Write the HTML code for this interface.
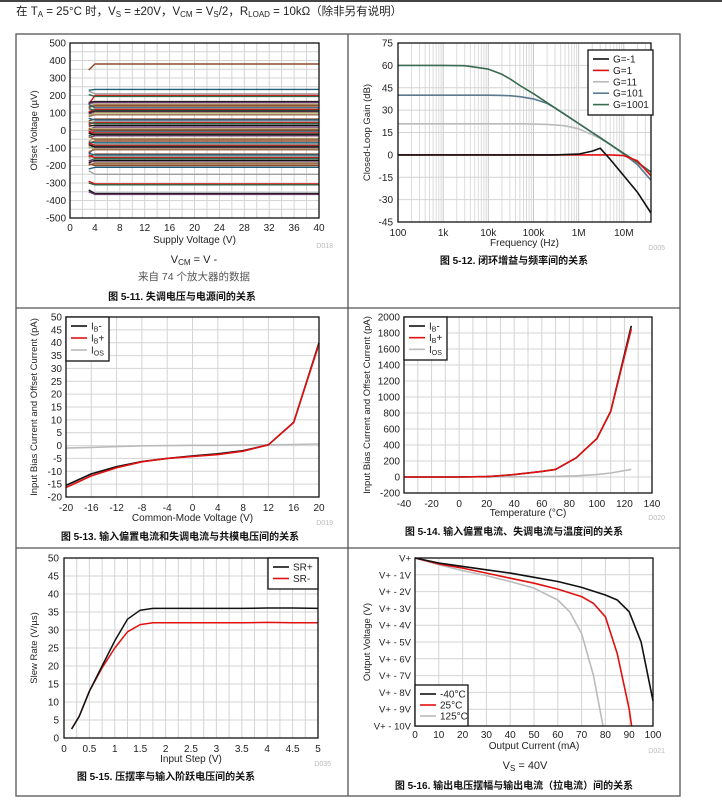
<!DOCTYPE html>
<html><head><meta charset="utf-8"><style>
html,body{margin:0;padding:0;background:#fff;}
svg{display:block;font-family:"Liberation Sans","Noto Sans CJK SC",sans-serif;}
</style></head><body>
<svg id="page" width="722" height="808" viewBox="0 0 722 808" xmlns="http://www.w3.org/2000/svg">
<rect x="0" y="0" width="722" height="2" fill="#444"/>
<text x="16" y="15" font-size="11.5" fill="#222">在 T<tspan font-size="8" dy="2">A</tspan><tspan dy="-2"> = 25°C 时，V</tspan><tspan font-size="8" dy="2">S</tspan><tspan dy="-2"> = ±20V，V</tspan><tspan font-size="8" dy="2">CM</tspan><tspan dy="-2"> = V</tspan><tspan font-size="8" dy="2">S</tspan><tspan dy="-2">/2，R</tspan><tspan font-size="8" dy="2">LOAD</tspan><tspan dy="-2"> = 10kΩ（除非另有说明）</tspan></text>
<g fill="none" stroke="#555" stroke-width="1.3">
<rect x="16" y="34" width="664" height="762"/>
<line x1="348" y1="34" x2="348" y2="796"/>
<line x1="16" y1="308" x2="680" y2="308"/>
<line x1="16" y1="548" x2="680" y2="548"/>
</g>
<g id="charts"></g>
</svg>
<script>
// ---------- Chart 1 data: offset voltage vs supply ----------
const c1Offsets = [380,235,210,200,195,165,160,150,145,140,130,125,120,115,110,105,100,90,65,60,50,45,40,30,20,10,5,0,-5,-10,-15,-20,-25,-30,-45,-50,-60,-70,-80,-85,-90,-95,-100,-105,-110,-135,-140,-150,-155,-160,-170,-180,-185,-190,-200,-210,-250,-305,-310,-360,-365];
const c1Starts  = [345,230,225,150,205,160,155,140,130,135,150,110,105,125,100,95,85,80,55,70,40,35,45,25,5,15,-5,10,-15,-20,-5,-30,-15,-40,-60,-35,-75,-65,-90,-70,-100,-80,-130,-95,-120,-150,-130,-160,-140,-175,-185,-170,-200,-195,-190,-220,-230,-290,-300,-340,-350];
const c1Colors = ['#8a4a2a','#1f5f7a','#a0a0a0','#e01010','#2f6a4a','#111','#6a3a6a','#b8b070','#9a6a4a'];
const c1XTicks = [0,4,8,12,16,20,24,28,32,36,40];
const c1YTicks = [500,400,300,200,100,0,-100,-200,-300,-400,-500];
// ---------- Chart 2 data: closed-loop gain ----------
const c2Freq = [100,1e3,3e3,1e4,2e4,3e4,5e4,1e5,2e5,3e5,5e5,1e6,2e6,3e6,5e6,1e7,2e7,4e7];
const c2G1001 = [60,60,59.8,57.5,54,51,46.5,41,35,31.5,27,21,15,11.5,7,1,-5,-11.5];
const c2G101 = [40,40,40,40,39.9,39.7,39,37.5,34.5,31.5,27,21,15,11.5,7,0.5,-6.5,-17];
const c2G11 = [20.8,20.8,20.8,20.8,20.8,20.8,20.8,20.6,20.4,20.1,19.5,17.5,13.5,11,7,1,-6,-12];
const c2G1 = [0,0,0,0,0,0,0,0,0,0,0,0,0,0,0,-0.5,-4,-14];
const c2Gm1 = [0,0,0,0,0,0,0,0,0,0,0.2,0.5,2.5,4.5,-3,-14,-25,-39];
const c2XLabels = ['100','1k','10k','100k','1M','10M'];
const c2YTicks = [75,60,45,30,15,0,-15,-30,-45];
// ---------- Chart 3 data ----------
const c3V = [-20,-16,-12,-8,-4,0,4,8,12,16,20];
const c3IBm = [-15.5,-11,-8.2,-6.2,-5,-4,-3.2,-2,0.3,9,40];
const c3IBp = [-16.3,-11.8,-8.6,-6.3,-5,-4.2,-3.5,-2.2,0.3,9,39.5];
const c3IOS = [-1,-0.7,-0.4,-0.1,0,0.1,0.1,0.2,0.3,0.4,0.6];
const c3XTicks = [-20,-16,-12,-8,-4,0,4,8,12,16,20];
const c3YTicks = [50,45,40,35,30,25,20,15,10,5,0,-5,-10,-15,-20];
// ---------- Chart 4 data ----------
const c4T = [-40,-20,0,20,25,40,60,70,85,100,110,125];
const c4IBm = [0,0,0,5,10,30,70,95,240,480,820,1890];
const c4IBp = [0,0,0,5,10,30,70,95,240,480,820,1850];
const c4IOS = [0,0,0,0,2,3,5,8,15,30,50,95];
const c4XTicks = [-40,-20,0,20,40,60,80,100,120,140];
const c4YTicks = [2000,1800,1600,1400,1200,1000,800,600,400,200,0,-200];
// ---------- Chart 5 data ----------
const c5Step = [0.15,0.3,0.5,0.75,1,1.25,1.5,1.75,2,2.5,3,3.5,4,4.5,5];
const c5SRp = [2.5,6,13,20,27,33,35.5,36,36,36,36,36,36.1,36.1,36];
const c5SRm = [2.5,6,13,19.5,25,29.5,31.5,32,32,32,32,32,32.1,32,32];
const c5XTicks = [0,0.5,1,1.5,2,2.5,3,3.5,4,4.5,5];
const c5YTicks = [50,45,40,35,30,25,20,15,10,5,0];
// ---------- Chart 6 data ----------
const c6IcoldX = [0,10,20,30,40,50,60,70,80,85,90,95,100];
const c6Icold = [0,-0.3,-0.5,-0.7,-0.9,-1.15,-1.4,-1.75,-2.2,-2.5,-3.2,-5,-8.5];
const c6IroomX = [0,10,20,30,40,50,60,70,75,80,85,90,91];
const c6Iroom = [0,-0.35,-0.6,-0.9,-1.2,-1.5,-1.85,-2.3,-2.7,-3.5,-5.7,-9,-10];
const c6IhotX = [0,10,20,30,40,50,60,65,70,75,79];
const c6Ihot = [0,-0.4,-0.75,-1.05,-1.4,-1.8,-2.5,-3.2,-4.5,-7,-10];
const c6XTicks = [0,10,20,30,40,50,60,70,80,90,100];
const c6YLabels = ['V+','V+ - 1V','V+ - 2V','V+ - 3V','V+ - 4V','V+ - 5V','V+ - 6V','V+ - 7V','V+ - 8V','V+ - 9V','V+ - 10V'];

const NS='http://www.w3.org/2000/svg';
const root=document.getElementById('charts');
function mk(tag,attrs,parent){const e=document.createElementNS(NS,tag);for(const k in attrs)e.setAttribute(k,attrs[k]);(parent||root).appendChild(e);return e;}
function lin(d0,d1,p0,p1){return v=>p0+(v-d0)/(d1-d0)*(p1-p0);}
function txt(x,y,s,size,anchor,parent,extra){const t=mk('text',Object.assign({x:x,y:y,'font-size':size,'text-anchor':anchor||'middle',fill:'#222'},extra||{}),parent);t.textContent=s;return t;}
function poly(xs,ys,fx,fy,color,w,parent){const p=mk('polyline',{points:xs.map((x,i)=>fx(x).toFixed(1)+','+fy(ys[i]).toFixed(1)).join(' '),fill:'none',stroke:color,'stroke-width':w,'stroke-linejoin':'round'},parent);return p;}
function frame(x0,y0,x1,y1,g){const r=mk('rect',{x:x0,y:y0,width:x1-x0,height:y1-y0,fill:'none',stroke:'#111','stroke-width':1.3},g);}
function gline(x1,y1,x2,y2,g,c){return mk('line',{x1:x1,y1:y1,x2:x2,y2:y2,stroke:c||'#d4d4d4','stroke-width':1},g);}
function legend(x0,y0,w,h,items,g,fs){const lg=mk('g',{},g);
 mk('rect',{x:x0,y:y0,width:w,height:h,fill:'#fff',stroke:'#111','stroke-width':1.3},lg);
 items.forEach((it,i)=>{const yy=y0+9+i*(h-8)/items.length;const e=mk('g',{},lg);
 mk('line',{x1:x0+5,y1:yy,x2:x0+21,y2:yy,stroke:it[1],'stroke-width':1.6},e);
 const t=mk('text',{x:x0+25,y:yy+3.5,'font-size':fs||10,fill:'#222'},e);t.innerHTML=it[0];});}
function ytitle(x,y,s,g){const t=txt(x,y,s,9.5,'middle',g,{transform:'rotate(-90 '+x+' '+y+')'});return t;}
function xtitle(x,y,s,g){const t=txt(x,y,s,10,'middle',g);return t;}
function caption(x,y,s,g){const t=txt(x,y,s,10,'middle',g,{'font-weight':'bold',fill:'#111'});return t;}
function dcode(x,y,s,g){const t=txt(x,y,s,7,'end',g,{fill:'#bbb'});}

// ===== Chart 1 =====
(function(){
const g=mk('g',{});
const X0=70,X1=319,Y0=43,Y1=218;const fx=lin(0,40,X0,X1),fy=lin(500,-500,Y0,Y1);
for(let v=0;v<=40;v+=2)gline(fx(v),Y0,fx(v),Y1,g);
for(let v=-500;v<=500;v+=50)gline(X0,fy(v),X1,fy(v),g);
c1Offsets.forEach((o,i)=>{const p=poly([3,4,10,20,30,40],[c1Starts[i],o,o,o,o,o],fx,fy,c1Colors[i%c1Colors.length],1.4,g);
});
frame(X0,Y0,X1,Y1,g);
c1XTicks.forEach(v=>{const t=txt(fx(v),Y1+13,String(v),10,'middle',g);});
c1YTicks.forEach(v=>{const t=txt(X0-4,fy(v)+3.5,String(v),10,'end',g);});
xtitle((X0+X1)/2,243,'Supply Voltage (V)',g);ytitle(37,(Y0+Y1)/2,'Offset Voltage (µV)',g);dcode(333,248,'D018',g);
const n=txt(194,263,'',11,'middle',g);n.innerHTML='V<tspan font-size="8" dy="2">CM</tspan><tspan dy="-2"> = V -</tspan>';
const n2=txt(194,280,'来自 74 个放大器的数据',10.5,'middle',g,{fill:'#555'});
caption(182,300,'图 5-11. 失调电压与电源间的关系',g);
})();

// ===== Chart 2 =====
(function(){
const g=mk('g',{});
const X0=398,X1=651,Y0=43,Y1=222;const lx=lin(2,Math.log10(4e7),X0,X1);const fx=f=>lx(Math.log10(f));const fy=lin(75,-45,Y0,Y1);
for(let d=100;d<4e7;d*=10)for(let m=1;m<10;m++){const f=d*m;if(f>4e7)break;gline(fx(f),Y0,fx(f),Y1,g,m===1?'#c8c8c8':'#dcdcdc');}
for(let v=-45;v<=75;v+=15)gline(X0,fy(v),X1,fy(v),g);
const ser=[[c2G11,'#bbb','gain-g11'],[c2G101,'#5a7a90','gain-g101'],[c2G1001,'#3a6a50','gain-g1001'],[c2G1,'#e01010','gain-g1'],[c2Gm1,'#111','gain-gm1']];
ser.forEach(s=>{const p=poly(c2Freq,s[0],fx,fy,s[1],1.6,g);});
frame(X0,Y0,X1,Y1,g);
c2XLabels.forEach((s,i)=>{const t=txt(fx(100*Math.pow(10,i)),Y1+14,s,10,'middle',g);});
c2YTicks.forEach(v=>{const t=txt(X0-5,fy(v)+3.5,String(v),10,'end',g);});
legend(588,50,65,65,[['G=-1','#111'],['G=1','#e01010'],['G=11','#bbb'],['G=101','#5a7a90'],['G=1001','#3a6a50']],g);
xtitle((X0+X1)/2,246,'Frequency (Hz)',g);ytitle(370,(Y0+Y1)/2,'Closed-Loop Gain (dB)',g);dcode(665,250,'D005',g);
caption(514,264,'图 5-12. 闭环增益与频率间的关系',g);
})();

// ===== Chart 3 =====
(function(){
const g=mk('g',{});
const X0=66,X1=319,Y0=317,Y1=497;const fx=lin(-20,20,X0,X1),fy=lin(50,-20,Y0,Y1);
for(let v=-20;v<=20;v+=4)gline(fx(v),Y0,fx(v),Y1,g);
for(let v=-20;v<=50;v+=5)gline(X0,fy(v),X1,fy(v),g);
[[c3IOS,'#bbb','ios-line'],[c3IBm,'#111','ib-minus-line'],[c3IBp,'#e01010','ib-plus-line']].forEach(s=>{const p=poly(c3V,s[0],fx,fy,s[1],1.6,g);});
frame(X0,Y0,X1,Y1,g);
c3XTicks.forEach(v=>{const t=txt(fx(v),Y1+14,String(v),10,'middle',g);});
c3YTicks.forEach(v=>{const t=txt(X0-4,fy(v)+3.5,String(v),10,'end',g);});
legend(66,317,43,44,[['I<tspan font-size="7" dy="2">B</tspan><tspan dy="-2">-</tspan>','#111'],['I<tspan font-size="7" dy="2">B</tspan><tspan dy="-2">+</tspan>','#e01010'],['I<tspan font-size="7" dy="2">OS</tspan>','#bbb']],g);
xtitle((X0+X1)/2,521,'Common-Mode Voltage (V)',g);ytitle(37,(Y0+Y1)/2,'Input Bias Current and Offset Current (pA)',g);dcode(333,525,'D019',g);
caption(180,540,'图 5-13. 输入偏置电流和失调电流与共模电压间的关系',g);
})();

// ===== Chart 4 =====
(function(){
const g=mk('g',{});
const X0=404,X1=652,Y0=317,Y1=493;const fx=lin(-40,140,X0,X1),fy=lin(2000,-200,Y0,Y1);
for(let v=-40;v<=140;v+=10)gline(fx(v),Y0,fx(v),Y1,g);
for(let v=-200;v<=2000;v+=200)gline(X0,fy(v),X1,fy(v),g);
[[c4IOS,'#bbb','ios-line'],[c4IBm,'#111','ib-minus-line'],[c4IBp,'#e01010','ib-plus-line']].forEach(s=>{const p=poly(c4T,s[0],fx,fy,s[1],1.6,g);});
frame(X0,Y0,X1,Y1,g);
c4XTicks.forEach(v=>{const t=txt(fx(v),Y1+14,String(v),10,'middle',g);});
c4YTicks.forEach(v=>{const t=txt(X0-4,fy(v)+3.5,String(v),10,'end',g);});
legend(404,317,43,43,[['I<tspan font-size="7" dy="2">B</tspan><tspan dy="-2">-</tspan>','#111'],['I<tspan font-size="7" dy="2">B</tspan><tspan dy="-2">+</tspan>','#e01010'],['I<tspan font-size="7" dy="2">OS</tspan>','#bbb']],g);
xtitle((X0+X1)/2,516,'Temperature (°C)',g);ytitle(370,(Y0+Y1)/2,'Input Bias Current and Offset Current (pA)',g);dcode(665,520,'D020',g);
caption(514,535,'图 5-14. 输入偏置电流、失调电流与温度间的关系',g);
})();

// ===== Chart 5 =====
(function(){
const g=mk('g',{});
const X0=64,X1=318,Y0=558,Y1=738;const fx=lin(0,5,X0,X1),fy=lin(50,0,Y0,Y1);
for(let v=0;v<=5.001;v+=0.25)gline(fx(v),Y0,fx(v),Y1,g);
for(let v=0;v<=50;v+=5)gline(X0,fy(v),X1,fy(v),g);
[[c5SRm,'#e01010','sr-minus-line'],[c5SRp,'#111','sr-plus-line']].forEach(s=>{const p=poly(c5Step,s[0],fx,fy,s[1],1.5,g);});
frame(X0,Y0,X1,Y1,g);
c5XTicks.forEach(v=>{const t=txt(fx(v),Y1+14,String(v),10,'middle',g);});
c5YTicks.forEach(v=>{const t=txt(X0-5,fy(v)+3.5,String(v),10,'end',g);});
legend(268,558,50,31,[['SR+','#111'],['SR-','#e01010']],g);
xtitle((X0+X1)/2,762,'Input Step (V)',g);ytitle(37,(Y0+Y1)/2,'Slew Rate (V/µs)',g);dcode(331,766,'D035',g);
caption(166,780,'图 5-15. 压摆率与输入阶跃电压间的关系',g);
})();

// ===== Chart 6 =====
(function(){
const g=mk('g',{});
const X0=415,X1=653,Y0=558,Y1=726;const fx=lin(0,100,X0,X1),fy=lin(0,-10,Y0,Y1);
for(let v=0;v<=100;v+=10)gline(fx(v),Y0,fx(v),Y1,g);
for(let v=-10;v<=0;v+=1)gline(X0,fy(v),X1,fy(v),g);
[[c6IhotX,c6Ihot,'#bbb','swing-125c'],[c6IroomX,c6Iroom,'#e01010','swing-25c'],[c6IcoldX,c6Icold,'#111','swing-m40c']].forEach(s=>{const p=poly(s[0],s[1],fx,fy,s[2],1.6,g);});
frame(X0,Y0,X1,Y1,g);
c6XTicks.forEach(v=>{const t=txt(fx(v),Y1+12,String(v),10,'middle',g);});
c6YLabels.forEach((s,i)=>{const t=txt(X0-4,fy(-i)+3.5,s,9.5,'end',g);});
legend(415,685,53,41,[['-40°C','#111'],['25°C','#e01010'],['125°C','#bbb']],g);
xtitle((X0+X1)/2,749,'Output Current (mA)',g);ytitle(370,(Y0+Y1)/2,'Output Voltage (V)',g);dcode(665,753,'D021',g);
const n=txt(525,769,'',11,'middle',g);n.innerHTML='V<tspan font-size="8" dy="2">S</tspan><tspan dy="-2"> = 40V</tspan>';
caption(514,789,'图 5-16. 输出电压摆幅与输出电流（拉电流）间的关系',g);
})();
</script>
</body></html>
